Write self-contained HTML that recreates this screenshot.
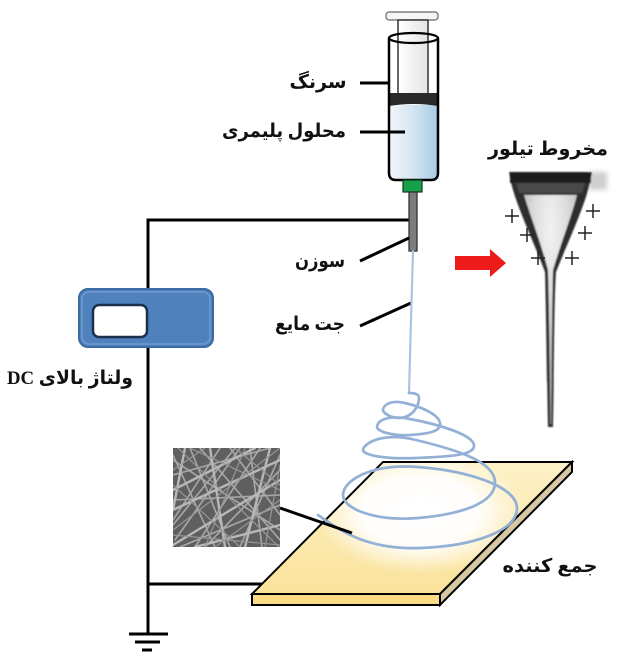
<!DOCTYPE html>
<html>
<head>
<meta charset="utf-8">
<style>
  html,body{margin:0;padding:0;background:#fff;}
  svg{display:block;}
  .lbl{font-family:"Liberation Serif","DejaVu Sans",sans-serif;font-weight:bold;font-size:19px;fill:#111;}
</style>
</head>
<body>
<svg width="621" height="653" viewBox="0 0 621 653" xmlns="http://www.w3.org/2000/svg">
  <defs>
    <linearGradient id="liq" x1="0" y1="0" x2="1" y2="0">
      <stop offset="0" stop-color="#f3f6fb"/>
      <stop offset="0.5" stop-color="#d4e4f2"/>
      <stop offset="1" stop-color="#a6cbe6"/>
    </linearGradient>
    <linearGradient id="stem" x1="0" y1="0" x2="1" y2="0">
      <stop offset="0" stop-color="#ffffff"/>
      <stop offset="1" stop-color="#e4e4e4"/>
    </linearGradient>
    <linearGradient id="plateTop" x1="0" y1="0" x2="0" y2="1">
      <stop offset="0" stop-color="#fdf1c6"/>
      <stop offset="1" stop-color="#fae29a"/>
    </linearGradient>
    <radialGradient id="glow" cx="0.5" cy="0.5" r="0.5">
      <stop offset="0" stop-color="#ffffff" stop-opacity="1"/>
      <stop offset="0.55" stop-color="#ffffff" stop-opacity="0.95"/>
      <stop offset="1" stop-color="#ffffff" stop-opacity="0"/>
    </radialGradient>
    <clipPath id="topFace">
      <polygon points="383,462 572,462 440,594 252,594"/>
    </clipPath>
    <clipPath id="semClip">
      <rect x="173" y="448" width="107" height="99"/>
    </clipPath>
    <radialGradient id="coneIn" cx="0.5" cy="0.15" r="0.9">
      <stop offset="0" stop-color="#f2f2f2"/>
      <stop offset="0.35" stop-color="#dcdcdc"/>
      <stop offset="1" stop-color="#9a9a9a"/>
    </radialGradient>
    <filter id="soft" x="-10%" y="-10%" width="120%" height="120%">
      <feGaussianBlur stdDeviation="0.8"/>
    </filter>
    <filter id="soft2" x="-30%" y="-30%" width="160%" height="160%">
      <feGaussianBlur stdDeviation="2.5"/>
    </filter>
  </defs>

  <!-- Wires -->
  <g stroke="#000" stroke-width="3" fill="none">
    <polyline points="409,220 148,220 148,635"/>
    <line x1="148" y1="584" x2="263" y2="584"/>
    <line x1="129" y1="634" x2="168" y2="634"/>
    <line x1="135" y1="642" x2="160" y2="642"/>
    <line x1="142" y1="650" x2="152" y2="650"/>
  </g>

  <!-- DC supply box -->
  <rect x="79" y="289" width="134" height="58" rx="9" ry="9" fill="#4f81bd" stroke="#3c6aa3" stroke-width="2"/>
  <rect x="82" y="292" width="128" height="52" rx="7" ry="7" fill="none" stroke="#6f9bd0" stroke-width="1.5"/>
  <rect x="93" y="305" width="54" height="32" rx="6" ry="6" fill="#fff" stroke="#1b2f4f" stroke-width="2.5"/>

  <!-- Syringe -->
  <rect x="386" y="12" width="52" height="8" rx="3" fill="#f6f6f6" stroke="#666" stroke-width="1.2"/>
  <rect x="398" y="20" width="30" height="76" fill="url(#stem)" stroke="#333" stroke-width="1.5"/>
  <path d="M389,105 L438,105 L438,173 Q438,180 431,180 L396,180 Q389,180 389,173 Z" fill="url(#liq)"/>
  <path d="M389,96 Q413.5,90 438,96 L438,106 Q413.5,102 389,106 Z" fill="#262626"/>
  <rect x="389" y="93" width="49" height="11" fill="#2a2a2a"/>
  <path d="M389,38 L389,173 Q389,180 396,180 L431,180 Q438,180 438,173 L438,38" fill="none" stroke="#000" stroke-width="2.5"/>
  <ellipse cx="413.5" cy="38" rx="24.5" ry="5" fill="none" stroke="#000" stroke-width="2.2"/>
  <rect x="403" y="180" width="19" height="12" fill="#16a04a" stroke="#0d3b1d" stroke-width="1.2"/>
  <rect x="409" y="192" width="8" height="59" fill="#7c7c7c" stroke="#333" stroke-width="1.3"/>

  <!-- Leader lines -->
  <g stroke="#000" stroke-width="3">
    <line x1="360" y1="83" x2="390" y2="83"/>
    <line x1="360" y1="132" x2="405" y2="132"/>
    <line x1="360" y1="261" x2="409" y2="238"/>
    <line x1="360" y1="326" x2="411" y2="303"/>
  </g>

  <!-- Collector plate -->
  <polygon points="383,462 572,462 440,594 252,594" fill="url(#plateTop)"/>
  <g clip-path="url(#topFace)">
    <ellipse cx="420" cy="512" rx="105" ry="62" fill="url(#glow)"/>
  </g>
  <polygon points="383,462 572,462 440,594 252,594" fill="none" stroke="#000" stroke-width="2"/>
  <polygon points="252,594 440,594 440,605 252,605" fill="#f9dc85" stroke="#000" stroke-width="2"/>
  <polygon points="440,594 572,462 572,472 440,605" fill="#d6c8a2" stroke="#000" stroke-width="2"/>

  <!-- SEM image -->
  <rect x="173" y="448" width="107" height="99" fill="#5f5f5f"/>
  <g clip-path="url(#semClip)" stroke="#a8a8a8" fill="none" stroke-linecap="round">
    <g stroke-width="1.6">
      <line x1="173" y1="460" x2="280" y2="530"/>
      <line x1="175" y1="540" x2="240" y2="448"/>
      <line x1="190" y1="448" x2="230" y2="547"/>
      <line x1="205" y1="547" x2="280" y2="470"/>
      <line x1="173" y1="500" x2="280" y2="495"/>
      <line x1="220" y1="448" x2="173" y2="520"/>
      <line x1="250" y1="448" x2="262" y2="547"/>
      <line x1="173" y1="475" x2="270" y2="448"/>
      <line x1="180" y1="547" x2="280" y2="505"/>
      <line x1="240" y1="547" x2="280" y2="455"/>
      <line x1="173" y1="525" x2="235" y2="448"/>
      <line x1="200" y1="448" x2="280" y2="540"/>
      <line x1="260" y1="448" x2="195" y2="547"/>
      <line x1="173" y1="455" x2="215" y2="547"/>
      <line x1="230" y1="448" x2="280" y2="515"/>
    </g>
    <g stroke-width="2.4" stroke="#b8b8b8">
      <line x1="173" y1="490" x2="255" y2="448"/>
      <line x1="173" y1="545" x2="280" y2="480"/>
      <line x1="210" y1="448" x2="225" y2="547"/>
      <line x1="270" y1="448" x2="245" y2="547"/>
      <line x1="185" y1="448" x2="173" y2="510"/>
      <line x1="173" y1="510" x2="280" y2="460"/>
      <line x1="195" y1="547" x2="280" y2="525"/>
    </g>
    <g stroke-width="1.2" stroke="#969696">
      <line x1="245" y1="448" x2="205" y2="547"/>
      <line x1="280" y1="490" x2="190" y2="448"/>
      <line x1="173" y1="535" x2="280" y2="545"/>
      <line x1="265" y1="547" x2="280" y2="465"/>
      <line x1="173" y1="470" x2="205" y2="448"/>
      <line x1="215" y1="547" x2="280" y2="500"/>
      <line x1="173" y1="485" x2="240" y2="547"/>
      <line x1="235" y1="448" x2="280" y2="485"/>
      <line x1="178" y1="448" x2="280" y2="548"/>
      <line x1="173" y1="530" x2="280" y2="448"/>
    </g>
  </g>

  <!-- Jet and spiral -->
  <g fill="none" stroke="#93b0d6" stroke-width="2.7" stroke-linecap="round" stroke-linejoin="round">
    <path d="M413,251 L411,320 L409,393" stroke="#a9c3e3" stroke-width="2.2"/>
    <path d="M409,393
      C414.5,393 419,394 419,398
      C419,404.6 414.9,413.7 405,417
      C395.1,420.3 383,413.9 383,410
      C383,406.1 389.3,399.4 405,403
      C420.7,406.6 438.6,414.2 440,423
      C441.4,431.8 427.4,433.9 410,435
      C392.6,436.1 377,431.4 377,427
      C377,422.6 383.2,414 410,419
      C436.8,424 472.3,434.2 474,445
      C475.7,455.8 446.6,456.6 416,458
      C385.4,459.4 363,455 363,450
      C363,445 379.6,431.2 416,440
      C452.4,448.8 494.4,460.5 495,482
      C495.6,503.5 460,514.4 418,518
      C376,521.6 343,509.1 343,495
      C343,480.9 370,463.4 418,467
      C466,470.6 516.4,485.6 517,508
      C517.6,530.4 475,546.1 420,548
      C365,549.9 338,529 318,515"/>
  </g>
  <!-- leader to SEM -->
  <line x1="280" y1="508" x2="352" y2="533" stroke="#000" stroke-width="3"/>

  <!-- Red arrow -->
  <polygon points="455,256 490,256 490,249 506,263 490,277 490,270 455,270" fill="#ee1b1b"/>

  <!-- Taylor cone -->
  <g filter="url(#soft)">
    <rect x="588" y="172" width="19" height="18" fill="#cfcfcf" filter="url(#soft2)"/>
    <path d="M509,172 L592,172 C588,200 572,232 556,272 C554,300 554,380 553,427 L548,427 C547,380 546,300 545,272 C530,232 513,200 509,172 Z" fill="#2f2f2f"/>
    <path d="M524,195 L577,195 C572,215 562,240 553,270 C552,300 551.5,380 551.3,424 L550.3,424 C550,380 549,300 548,270 C540,240 530,215 524,195 Z" fill="url(#coneIn)"/>
    <rect x="510" y="172" width="81" height="11" fill="#1a1a1a"/>
    <path d="M516,183 L585,183 L582,193 L519,193 Z" fill="#4a4a4a"/>
  </g>
  <g stroke="#222" stroke-width="1.5">
    <line x1="505" y1="216" x2="519" y2="216"/><line x1="512" y1="209" x2="512" y2="223"/>
    <line x1="520" y1="235" x2="534" y2="235"/><line x1="527" y1="228" x2="527" y2="242"/>
    <line x1="531" y1="258" x2="545" y2="258"/><line x1="538" y1="251" x2="538" y2="265"/>
    <line x1="586" y1="211" x2="600" y2="211"/><line x1="593" y1="204" x2="593" y2="218"/>
    <line x1="578" y1="233" x2="592" y2="233"/><line x1="585" y1="226" x2="585" y2="240"/>
    <line x1="565" y1="258" x2="579" y2="258"/><line x1="572" y1="251" x2="572" y2="265"/>
  </g>

  <!-- Labels -->
  <text class="lbl" x="318" y="88" text-anchor="middle" direction="rtl" textLength="57" lengthAdjust="spacingAndGlyphs">سرنگ</text>
  <text class="lbl" x="284" y="137" text-anchor="middle" direction="rtl" textLength="124" lengthAdjust="spacingAndGlyphs">محلول پلیمری</text>
  <text class="lbl" x="320" y="267" text-anchor="middle" direction="rtl" textLength="50" lengthAdjust="spacingAndGlyphs">سوزن</text>
  <text class="lbl" x="310" y="330" text-anchor="middle" direction="rtl" textLength="70" lengthAdjust="spacingAndGlyphs">جت مایع</text>
  <text class="lbl" x="548" y="155" text-anchor="middle" direction="rtl" textLength="120" lengthAdjust="spacingAndGlyphs">مخروط تیلور</text>
  <text class="lbl" x="70" y="384" text-anchor="middle" direction="rtl" textLength="126" lengthAdjust="spacingAndGlyphs">ولتاژ بالای DC</text>
  <text class="lbl" x="550" y="572" text-anchor="middle" direction="rtl" textLength="95" lengthAdjust="spacingAndGlyphs">جمع کننده</text>
</svg>
</body>
</html>
